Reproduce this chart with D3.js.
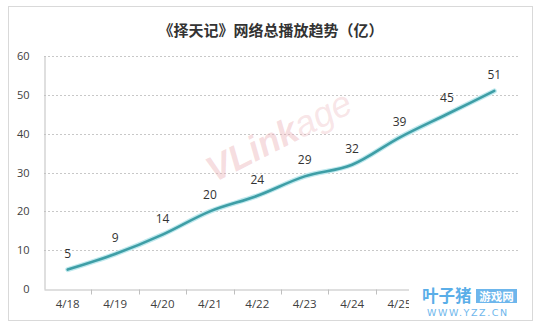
<!DOCTYPE html>
<html><head><meta charset="utf-8">
<script src="https://cdn.jsdelivr.net/npm/d3@7"></script>
<style>
html,body{margin:0;padding:0;background:#fff;}
svg{display:block;font-family:"Microsoft YaHei","Noto Sans CJK SC",sans-serif;}
</style></head>
<body>
<svg id="c" width="540" height="329"></svg>
<script>
const title = "《择天记》网络总播放趋势（亿）";
const categories = ["4/18","4/19","4/20","4/21","4/22","4/23","4/24","4/25","4/26","4/27"];
const values = [5, 9, 14, 20, 24, 29, 32, 39, 45, 51];
const yTicks = [0, 10, 20, 30, 40, 50, 60];
// labels visible in the reference (last two are hidden under the site watermark)
const visibleCategoryLabels = ["4/18","4/19","4/20","4/21","4/22","4/23","4/24","4/25"];

const svg = d3.select("#c");
const W = 540, H = 329;
const m = {left: 44, right: 22, top: 56, bottom: 40};

// frame
svg.append("rect").attr("x", 8.5).attr("y", 6.5).attr("width", 524).attr("height", 314)
  .attr("fill", "#fff").attr("stroke", "#d9d9d9");

svg.append("text").attr("x", 271).attr("y", 36).attr("text-anchor", "middle")
  .attr("font-size", 15).attr("font-weight", "bold").attr("fill", "#333")
  .attr("font-family", "'Noto Sans CJK SC',sans-serif").text(title);

const x = d3.scaleBand().domain(categories).range([m.left, W - m.right]);
const y = d3.scaleLinear().domain([0, 60]).range([H - m.bottom, m.top]);

// gridlines
svg.append("g").selectAll("line").data(yTicks.filter(d => d > 0)).join("line")
  .attr("x1", m.left).attr("x2", W - m.right)
  .attr("y1", d => Math.round(y(d)) + 0.5).attr("y2", d => Math.round(y(d)) + 0.5)
  .attr("stroke", "#c8c8c8").attr("stroke-dasharray", "2,2");

// y axis
const ya = svg.append("g").attr("transform", `translate(${m.left + 0.5},0)`)
  .call(d3.axisLeft(y).tickValues(yTicks).tickSize(0).tickPadding(15));
ya.select(".domain").attr("stroke", "#bfbfbf");
ya.selectAll("text").attr("font-size", 11).attr("fill", "#404040")
  .attr("font-family", "'Open Sans','Noto Sans',sans-serif");

// x axis
const xa = svg.append("g").attr("transform", `translate(0,${Math.round(y(0)) + 0.5})`)
  .call(d3.axisBottom(x).tickSize(0).tickPadding(10)
    .tickFormat(d => visibleCategoryLabels.includes(d) ? d : ""));
xa.select(".domain").attr("stroke", "#bfbfbf");
xa.selectAll("text").attr("font-size", 11.5).attr("fill", "#404040")
  .attr("font-family", "'Open Sans','Noto Sans',sans-serif");
xa.selectAll(".tick").filter(d => !visibleCategoryLabels.includes(d)).remove();
// tick marks at band boundaries
xa.append("g").selectAll("line").data(categories.slice(1)).join("line")
  .attr("x1", d => Math.round(x(d)) + 0.5).attr("x2", d => Math.round(x(d)) + 0.5)
  .attr("y1", 0).attr("y2", 5).attr("stroke", "#bfbfbf");

// watermark (VLinkage)
const wm = svg.append("text").attr("transform", "translate(214,183) rotate(-27)")
  .attr("font-size", 36).attr("font-family", "'Liberation Sans',Arial,sans-serif")
  .attr("font-style", "italic");
wm.append("tspan").attr("font-weight", "bold").attr("fill", "#e9a7ae").attr("fill-opacity", 0.4).text("VLink");
wm.append("tspan").attr("fill", "#e9a7ae").attr("fill-opacity", 0.3).text("age");

// line
const line = d3.line().x((d, i) => x(categories[i]) + x.bandwidth() / 2).y(d => y(d))
  .curve(d3.curveMonotoneX);
svg.append("path").datum(values).attr("d", line).attr("fill", "none")
  .attr("stroke", "#bfe9ee").attr("stroke-width", 5).attr("stroke-linecap", "round");
svg.append("path").datum(values).attr("d", line).attr("fill", "none")
  .attr("stroke", "#3e9ea6").attr("stroke-width", 2.6).attr("stroke-linecap", "round");

// data labels
svg.append("g").selectAll("text").data(values).join("text")
  .attr("x", (d, i) => x(categories[i]) + x.bandwidth() / 2)
  .attr("y", d => y(d) - 12)
  .attr("text-anchor", "middle").attr("font-size", 12).attr("fill", "#333")
  .attr("font-family", "'Open Sans','Noto Sans',sans-serif")
  .text(d => d);

// bottom-right site watermark
svg.append("rect").attr("x", 409).attr("y", 284).attr("width", 120).attr("height", 35).attr("fill", "#fff");
svg.append("text").attr("x", 422).attr("y", 302).attr("font-size", 16.5).attr("font-weight", "bold")
  .attr("fill", "#5aaee8").attr("font-family", "'Noto Sans CJK SC',sans-serif").text("叶子猪");
svg.append("rect").attr("x", 476).attr("y", 289).attr("width", 41).attr("height", 14).attr("fill", "#6db6ec");
svg.append("text").attr("x", 496.5).attr("y", 300.5).attr("text-anchor", "middle").attr("font-size", 11.5)
  .attr("font-weight", "bold").attr("fill", "#fff").attr("font-family", "'Noto Sans CJK SC',sans-serif").text("游戏网");
svg.append("text").attr("x", 427).attr("y", 316).attr("font-size", 9.5).attr("letter-spacing", 1.6)
  .attr("fill", "#6db6ec").attr("font-family", "'DejaVu Sans',sans-serif").text("WWW.YZZ.CN");
</script>
</body></html>
